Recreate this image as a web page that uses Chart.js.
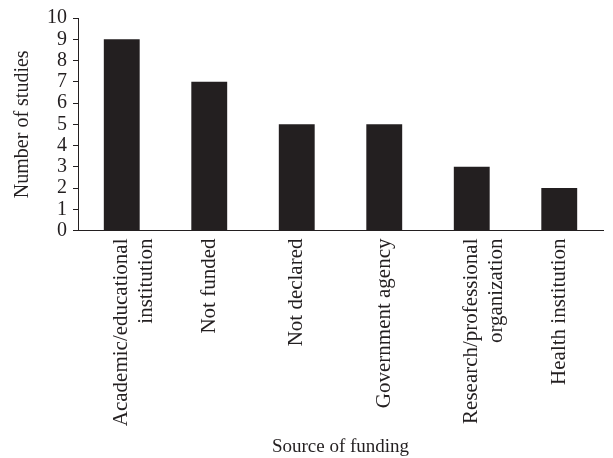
<!DOCTYPE html>
<html>
<head>
<meta charset="utf-8">
<script src="https://cdn.jsdelivr.net/npm/chart.js@4.4.1/dist/chart.umd.min.js"></script>
<style>
  html, body { margin: 0; padding: 0; background: #fff; }
  #wrap { width: 613px; height: 458px; }
</style>
</head>
<body>
<div id="wrap"><canvas id="fundingChart"></canvas></div>
<script>
// categories (multi-line labels as arrays)
const sources = [
    ['Academic/educational', 'institution'],
    'Not funded',
    'Not declared',
    'Government agency',
    ['Research/professional', 'organization'],
    'Health institution'
];
const studyCounts = [9, 7, 5, 5, 3, 2];
const yTicks = [0, 1, 2, 3, 4, 5, 6, 7, 8, 9, 10];

const ink = '#231f20';
const serif = "'Liberation Serif', 'Times New Roman', serif";

const ctx = document.getElementById('fundingChart').getContext('2d');

new Chart(ctx, {
    type: 'bar',
    data: {
        labels: sources,
        datasets: [{
            label: 'Number of studies',
            data: studyCounts,
            backgroundColor: ink,
            borderWidth: 0,
            categoryPercentage: 1.0,
            barPercentage: 0.41
        }]
    },
    options: {
        responsive: true,
        maintainAspectRatio: false,
        animation: false,
        layout: {
            padding: { top: 3, right: 10, left: 11, bottom: 0 }
        },
        plugins: {
            legend: { display: false },
            tooltip: { enabled: false }
        },
        scales: {
            x: {
                grid: { display: false, drawTicks: false },
                border: { display: true, color: ink, width: 1 },
                ticks: {
                    color: ink,
                    font: { family: serif, size: 21 },
                    minRotation: 90,
                    maxRotation: 90,
                    padding: 8,
                    autoSkip: false
                },
                title: {
                    display: true,
                    text: 'Source of funding',
                    color: ink,
                    font: { family: serif, size: 19 },
                    padding: { top: 7, bottom: 0 }
                }
            },
            y: {
                min: 0,
                max: 10,
                afterBuildTicks: (axis) => {
                    axis.ticks = yTicks.map(v => ({ value: v }));
                },
                grid: {
                    display: true,
                    drawOnChartArea: false,
                    drawTicks: true,
                    tickLength: 5,
                    color: ink
                },
                border: { display: true, color: ink, width: 1 },
                ticks: {
                    color: ink,
                    font: { family: serif, size: 20 },
                    padding: 6,
                    autoSkip: false
                },
                title: {
                    display: true,
                    text: 'Number of studies',
                    color: ink,
                    font: { family: serif, size: 20 },
                    padding: { top: 0, bottom: 6 }
                }
            }
        }
    }
});
</script>
</body>
</html>
